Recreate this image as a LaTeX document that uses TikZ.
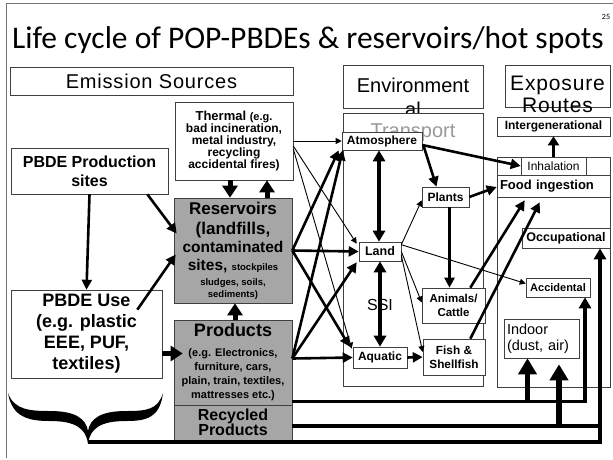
\documentclass[tikz,border=0pt]{standalone}
\usepackage{fontspec}
\setmainfont{Liberation Sans}
\newfontfamily\titlefont{Carlito}
\newfontfamily\headfont{Liberation Sans}[LetterSpace=4]
\usetikzlibrary{arrows.meta,calc}
\newcommand{\fsz}[2]{\fontsize{#1}{#2}\selectfont}

\begin{document}
\begin{tikzpicture}[x=1pt,y=-1pt,
	box/.style={draw=black!75, line width=0.6pt, fill=white, inner sep=0pt, align=center, font=\bfseries},
	greybox/.style={box, fill=black!35},
	head/.style={align=center, font=\headfont},
	arr/.style={-{Triangle[width=10pt,length=10pt]}, line width=2.6pt},
	thinarr/.style={-{Triangle[width=6pt,length=6pt]}, line width=0.9pt},
	bigarr/.style={-{Triangle[width=15pt,length=12pt]}, line width=5pt},
	hugearr/.style={-{Triangle[width=18pt,length=16pt]}, line width=5.5pt},
	dblarr/.style={{Triangle[width=12pt,length=11pt]}-{Triangle[width=12pt,length=11pt]}, line width=4pt},
	route/.style={line width=3.4pt},
	routearr/.style={route, -{Triangle[width=12pt,length=11pt]}}]
	\useasboundingbox (0,0) rectangle (613,459);
	\draw[black!55, line width=0.6pt] (6,458) -- (6,3) -- (613,3);
	\node (title) at (308,40) {\titlefont\fsz{31.5}{34}Life cycle of POP-PBDEs \& reservoirs/hot spots};
	\node (page) at (606,17) {\titlefont\fsz{8}{9}25};

	\node [box, minimum width=283pt, minimum height=28pt, font=\headfont\fsz{20}{22}] (emis) at (151.5,81) {Emission Sources};
	\node [box, minimum width=140pt, minimum height=43pt] (envhead) at (413,86.5) {};
	\node [align=center, font=\fsz{20}{24}] (envtext) at (413,97) {Environment\\al};
	\node [box, minimum width=105pt, minimum height=42pt] (exphead) at (557.5,86) {};
	\node [head, font=\headfont\fsz{21}{22}] (exptext) at (557.5,94) {Exposure\\Routes};

	\node [box, minimum width=157pt, minimum height=46pt, font=\bfseries\fsz{16}{19}] (prodsite) at (89.5,171) {PBDE Production\\sites};
	\node [box, minimum width=151pt, minimum height=88pt, font=\bfseries\fsz{18}{21}] (use) at (86.5,334) {PBDE Use\\(e.g. plastic\\EEE, PUF,\\textiles)};
	\node [box, minimum width=118pt, minimum height=78pt, font=\bfseries\fsz{12}{12}] (thermal) at (234,141) {\fsz{13}{12}Thermal \fsz{11}{12}(e.g.\\bad incineration,\\metal industry,\\recycling\\accidental fires)};
	\node [greybox, minimum width=118pt, minimum height=105pt, font=\bfseries\fsz{17}{18}] (reserv) at (233,250.5) {Reservoirs\\[2pt](landfills,\\\fsz{15.5}{18}contaminated\\\fsz{15.5}{18}sites, \fsz{9.5}{18}stockpiles\\[-3pt]\fsz{9.5}{12}sludges, soils,\\[-6pt]\fsz{9.5}{12}sediments)};
	\node [greybox, minimum width=118pt, minimum height=85pt, font=\bfseries\fsz{11}{14}] (prods) at (233,362.5) {\fsz{18}{19}Products\\[6pt](e.g. Electronics,\\furniture, cars,\\plain, train, textiles,\\mattresses etc.)};
	\node [greybox, minimum width=118pt, minimum height=35pt, font=\bfseries\fsz{16}{15}] (recyc) at (233,422.5) {Recycled\\Products};

	\node [box, minimum width=140pt, minimum height=273pt] (transport) at (413,249.5) {};
	\node [text=black!40, font=\fsz{20}{22}] (transtext) at (413,133) {Transport};
	\node [box, minimum width=80pt, minimum height=18pt, font=\bfseries\fsz{12}{13}] (atmos) at (382,141) {Atmosphere};
	\node [box, minimum width=47pt, minimum height=20pt, font=\bfseries\fsz{12}{13}] (plants) at (445.5,197) {Plants};
	\node [box, minimum width=42pt, minimum height=19pt, font=\bfseries\fsz{12.5}{13}] (land) at (380,251.5) {Land};
	\node [box, minimum width=63pt, minimum height=35pt, font=\bfseries\fsz{11.5}{14}] (animals) at (453.5,305.5) {Animals/\\Cattle};
	\node [box, minimum width=54pt, minimum height=21pt, font=\bfseries\fsz{12}{13}] (aquatic) at (380,357.5) {Aquatic};
	\node [box, minimum width=62pt, minimum height=36pt, font=\bfseries\fsz{11.8}{14}] (fish) at (454,357) {Fish \&\\Shellfish};

	\node [box, minimum width=113pt, minimum height=230pt] (expbox) at (553.5,272) {};
	\node [box, minimum width=113pt, minimum height=19pt, font=\bfseries\fsz{12}{13}] (interg) at (553.5,126.5) {Intergenerational};
	\node [box, minimum width=113pt, minimum height=18pt] (inhrow) at (553.5,166) {};
	\node [box, minimum width=65pt, minimum height=18pt, font=\fsz{12}{13}] (inhal) at (553.5,166) {Inhalation};
	\node [box, minimum width=113pt, minimum height=22pt, align=left, text width=107pt, font=\bfseries\fsz{13}{14}] (food) at (553.5,186) {Food ingestion};
	\node [box, minimum width=88pt, minimum height=20pt, font=\bfseries\fsz{12.5}{13}] (occup) at (566,238) {Occupational};
	\node [box, minimum width=64pt, minimum height=19pt, font=\bfseries\fsz{11}{12}] (accid) at (558,287.5) {Accidental};
	\node [box, minimum width=75pt, minimum height=39pt, align=left, text width=69pt, font=\fsz{14.5}{16}] (indoor) at (541.5,338.5) {Indoor\\(dust, air)};

	\fill (8,393) .. controls (12,418) and (30,421) .. (50,421) .. controls (75,421) and (86,428) .. (88,444) .. controls (90,428) and (101,421) .. (126,421) .. controls (146,421) and (160,418) .. (163,393) .. controls (158,410) and (146,411) .. (126,411) .. controls (100,411) and (90,419) .. (88,431) .. controls (86,419) and (76,411) .. (50,411) .. controls (30,411) and (14,410) .. (8,393) -- cycle;
	\coordinate (bracetip) at (88,442);
	\coordinate (join) at (600,426);

	\draw[arr] (prodsite.south) -- (use.north);
	\draw[arr] ($(prodsite.south east)+(-21,0)$) -- ($(reserv.west)+(3,-17)$);
	\draw[arr] ($(use.north east)+(-25,20)$) -- ($(reserv.west)+(2,4)$);
	\draw[bigarr] ($(prods.west)+(-12,-9)$) -- ($(prods.west)+(9,-9)$);
	\draw[bigarr] ($(thermal.south)+(-4,0)$) -- ($(reserv.north)+(-3,0)$);
	\draw[bigarr] ($(reserv.north)+(34,0)$) -- ($(thermal.south)+(33,0)$);
	\draw[bigarr] ($(prods.north)+(2,0)$) -- ($(reserv.south)+(2,0)$);

	\draw[thinarr] (thermal.east) -- (atmos.west);
	\draw[thinarr] ($(thermal.east)+(0,5)$) -- ($(land.north west)+(-2,2)$);
	\draw[thinarr] ($(thermal.east)+(0,8)$) -- ($(aquatic.north west)+(-1,2)$);
	\draw[arr] (reserv.east) -- ($(atmos.south west)+(-3,0)$);
	\draw[arr] (reserv.east) -- (land.west);
	\draw[arr] (reserv.east) -- ($(aquatic.north west)+(-3,0)$);
	\draw[arr] ($(prods.east)+(0,-4)$) -- ($(atmos.south west)+(1,0)$);
	\draw[arr] ($(prods.east)+(0,-4)$) -- ($(land.south west)+(-2,1)$);
	\draw[arr] ($(prods.east)+(0,-4)$) -- (aquatic.west);

	\draw[dblarr] ($(atmos.south)+(-3,0)$) -- ($(land.north)+(-1,0)$);
	\draw[dblarr] (land.south) -- (aquatic.north);
	\node [font=\fsz{16}{17}] (ssi) at (380,305) {SSI};
	\draw[arr] ($(atmos.east)+(1,4)$) -- ($(plants.north)+(-9,0)$);
	\draw[arr] ($(atmos.east)+(0,4)$) -- (inhal.west);
	\draw[thinarr] ($(land.north east)+(0,3)$) -- ($(plants.south west)+(0,-7)$);
	\draw[arr] (plants.east) -- ($(food.west)+(0,1)$);
	\draw[arr] ($(plants.south)+(4,0)$) -- ($(animals.north)+(-4,0)$);
	\draw[thinarr] (land.east) -- ($(animals.west)+(0,-3)$);
	\draw[thinarr] ($(land.south east)+(0,-6)$) -- ($(fish.west)+(0,-5)$);
	\draw[thinarr] ($(land.north east)+(0,3)$) -- ($(accid.west)+(0,-4)$);
	\draw[arr] ($(animals.north east)+(-15,0)$) -- ($(food.south west)+(28,3)$);
	\draw[arr] ($(fish.north east)+(-15,0)$) -- ($(food.south west)+(43,5)$);
	\draw[arr] (aquatic.east) -- (fish.west);
	\draw[-{Triangle[width=11pt,length=9pt]}, line width=3.5pt] (inhal.north) -- (interg.south);

	\draw[routearr] ($(prods.south east)+(0,-4)$) -| ($(accid.south)+(27,0)$);
	\draw[route] ($(recyc.east)+(0,3.5)$) -- (join);
	\draw[routearr] (join) -- (join |- occup.south);
	\draw[route] (bracetip) -| (join);
	\draw[hugearr] ($(indoor.south)+(-14,43)$) -- ($(indoor.south)+(-14,0)$);
	\draw[hugearr] ($(indoor.south)+(17.5,68)$) -- ($(indoor.south)+(17.5,6)$);
\end{tikzpicture}
\end{document}
